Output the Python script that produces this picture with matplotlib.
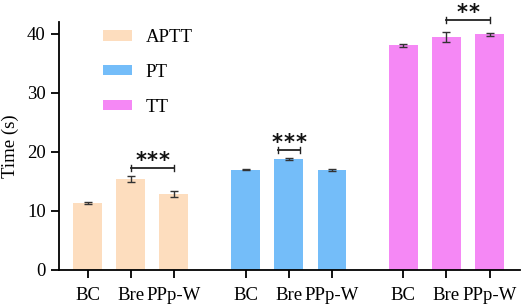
import numpy as np
import matplotlib
matplotlib.use('Agg')
from matplotlib import pyplot as plt

groups = ['APTT', 'PT', 'TT']
samples = ['BC', 'Bre', 'PPp-W']
aptt = [11.4, 15.4, 12.9]
aptt_err = [0.15, 0.5, 0.5]
pt = [17.0, 18.8, 16.9]
pt_err = [0.12, 0.15, 0.12]
tt = [38.1, 39.5, 39.9]
tt_err = [0.25, 0.8, 0.3]
colors = ['#FDDDBE', '#74BDF9', '#F588F5']

plt.rc('font', family='Liberation Serif', size=13.5)
fig = plt.figure(figsize=(5.26, 3.06), dpi=100)
ax = fig.add_axes([0.112, 0.118, 0.876, 0.81])

offsets = [0.0, 3.67, 7.33]
values = [aptt, pt, tt]
errors = [aptt_err, pt_err, tt_err]
xticks, xlabels = [], []
for off, vals, errs, col, name in zip(offsets, values, errors, colors, groups):
    x = off + np.arange(3)
    ax.bar(x, vals, width=0.67, color=col, label=name)
    ax.errorbar(x, vals, yerr=errs, fmt='none', ecolor='#333333',
                elinewidth=1.0, capsize=3, capthick=1.0)
    xticks.extend(x)
    xlabels.extend(samples)

# significance brackets
brackets = [(1, 2, 17.3, 3), (4.42, 4.92, 20.3, 3), (8.33, 9.33, 42.4, 2)]
for x0, x1, y, n in brackets:
    ax.plot([x0, x1], [y, y], color='#222222', lw=1.3, clip_on=False)
    ax.plot([x0, x0], [y - 0.5, y + 0.5], color='#222222', lw=1.0, clip_on=False)
    ax.plot([x1, x1], [y - 0.5, y + 0.5], color='#222222', lw=1.0, clip_on=False)
    xc = (x0 + x1) / 2
    for k in range(n):
        dx = (k - (n - 1) / 2) * 8.5
        ax.annotate('*', xy=(xc, y), xytext=(dx, 5.0), textcoords='offset points',
                    ha='center', va='center', family='DejaVu Sans', fontsize=15,
                    fontweight='bold', color='#111111', annotation_clip=False)

ax.set_xticks(xticks)
ax.set_xticklabels(xlabels)
ax.set_xlim(-0.67, 10.03)
ax.set_ylim(0, 42)
ax.set_yticks([0, 10, 20, 30, 40])
ax.set_ylabel('Time (s)', labelpad=6)
for side in ['top', 'right']:
    ax.spines[side].set_visible(False)
for side in ['left', 'bottom']:
    ax.spines[side].set_linewidth(1.3)
ax.tick_params(width=1.3, length=6)
ax.tick_params(axis='x', pad=6)

ax.legend(loc='upper left', bbox_to_anchor=(0.06, 1.04), frameon=False,
          handlelength=1.5, handleheight=0.5, labelspacing=0.95, handletextpad=0.75)

fig.savefig('out.png', dpi=100)
